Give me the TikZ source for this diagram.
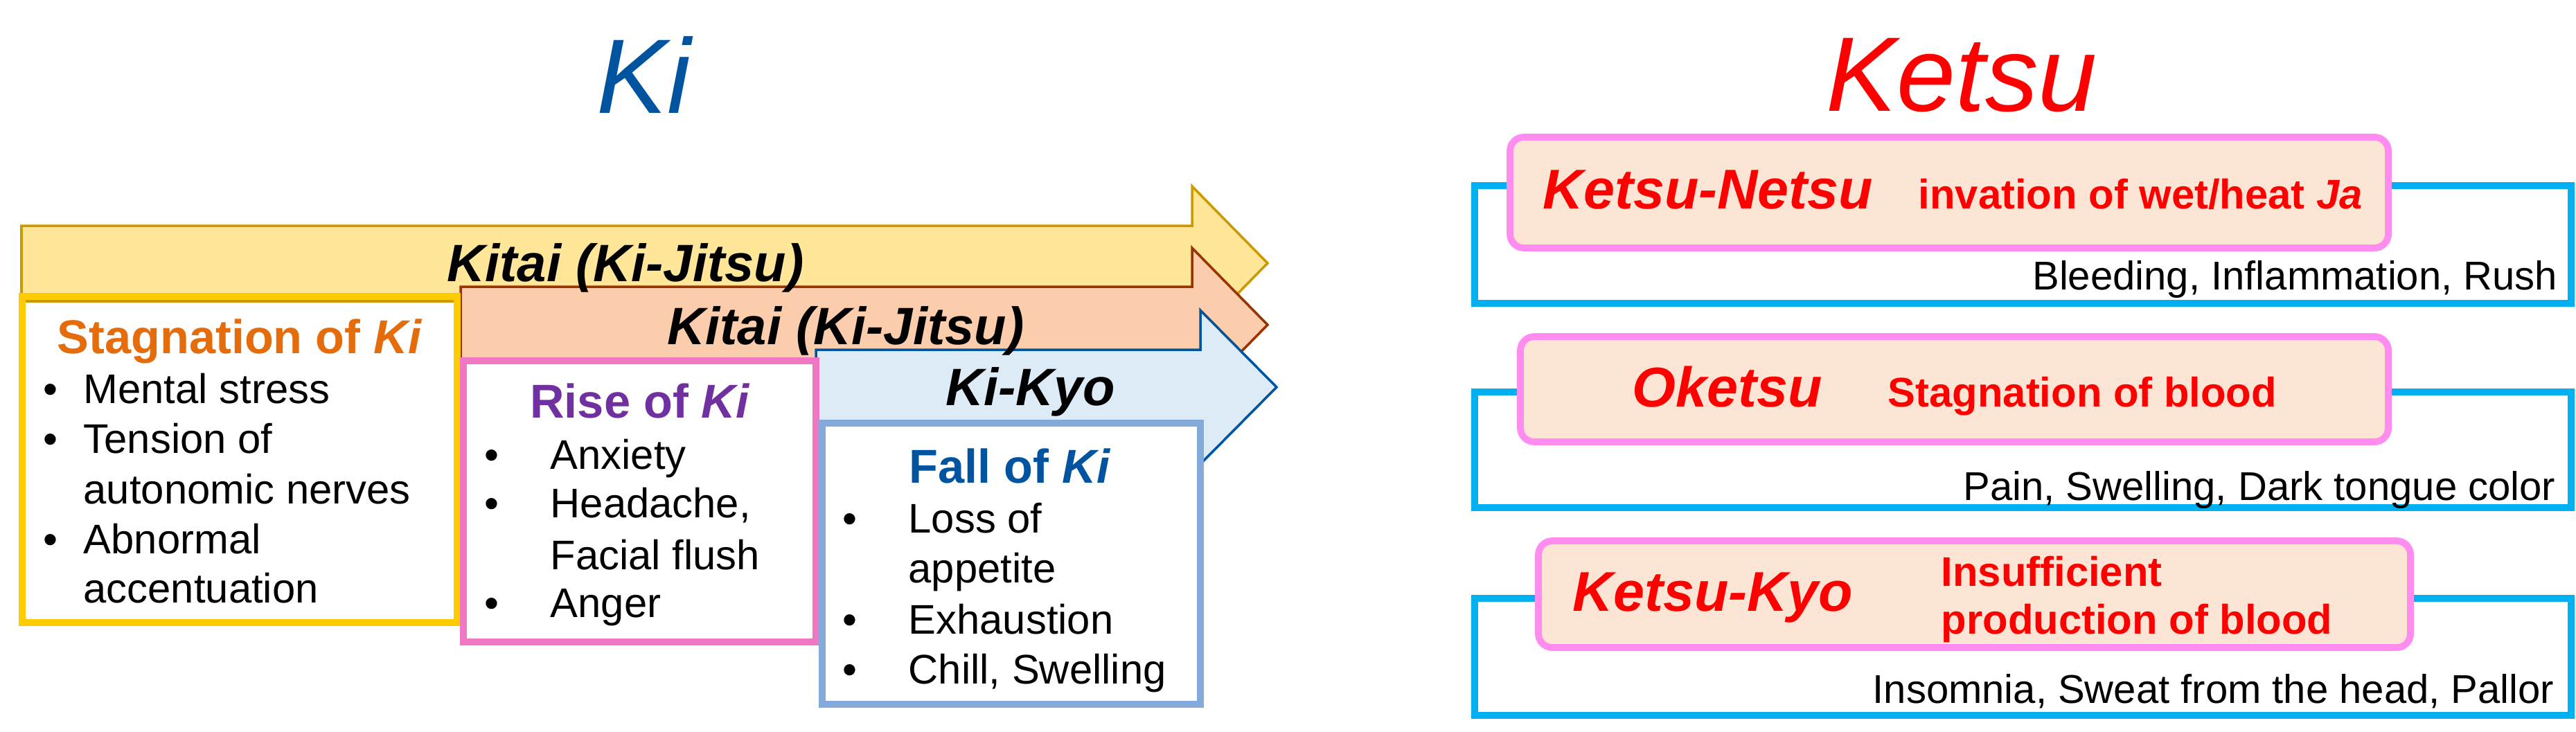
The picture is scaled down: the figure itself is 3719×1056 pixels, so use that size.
\documentclass[tikz,border=0pt]{standalone}
\usepackage{fontspec}
\setmainfont{Liberation Sans}
\usetikzlibrary{positioning}

\definecolor{kiblue}{RGB}{0,84,159}
\definecolor{yelfill}{RGB}{255,230,153}
\definecolor{yeldraw}{RGB}{204,153,0}
\definecolor{orgfill}{RGB}{252,205,172}
\definecolor{orgdraw}{RGB}{153,51,0}
\definecolor{bluefill}{RGB}{221,235,247}
\definecolor{stagline}{RGB}{255,204,0}
\definecolor{stagtext}{RGB}{228,108,10}
\definecolor{riseline}{RGB}{240,120,195}
\definecolor{risetext}{RGB}{112,48,160}
\definecolor{fallline}{RGB}{132,170,220}
\definecolor{cyanline}{RGB}{0,176,240}
\definecolor{pinkline}{RGB}{255,140,238}
\definecolor{pinkfill}{RGB}{253,229,214}

\tikzset{
  title/.style={font=\fontsize{43.5}{50}\selectfont\itshape, inner sep=0pt, anchor=base},
  arrowlabel/.style={font=\fontsize{21.6}{26}\selectfont\bfseries\itshape, inner sep=0pt, anchor=base},
  boxtitle/.style={font=\fontsize{19.5}{24}\selectfont\bfseries, inner sep=0pt, anchor=base},
  item/.style={font=\fontsize{17}{20}\selectfont, inner sep=0pt, anchor=base west},
  framebox/.style={line width=2.8pt, fill=white},
  symptom/.style={font=\fontsize{16.5}{20}\selectfont, inner sep=0pt, anchor=base east},
  ketsuname/.style={font=\fontsize{23}{28}\selectfont\bfseries\itshape, text=red, inner sep=0pt, anchor=base west},
  ketsudesc/.style={font=\fontsize{17}{20}\selectfont\bfseries, text=red, inner sep=0pt, anchor=base west},
  pinkbox/.style={draw=pinkline, fill=pinkfill, line width=2.8pt, rounded corners=2mm},
  bracket/.style={draw=cyanline, line width=2.8pt}
}

\begin{document}
\begin{tikzpicture}[x=0.01cm,y=-0.01cm]
  \useasboundingbox (0,0) rectangle (3719,1056);

  % titles
  \node[title, text=kiblue] (ki) at (929,163) {Ki};
  \node[title, text=red] (ketsu) at (2832,160) {Ketsu};

  % Ki arrows
  \draw[fill=yelfill, draw=yeldraw, line width=1pt]
    (31,326) -- (1721,326) -- (1721,269) -- (1830,380) -- (1721,491) -- (1721,434) -- (31,434) -- cycle;
  \draw[fill=orgfill, draw=orgdraw, line width=1pt]
    (665,414) -- (1721,414) -- (1721,358) -- (1830,469) -- (1721,580) -- (1721,524) -- (665,524) -- cycle;
  \draw[fill=bluefill, draw=kiblue, line width=1pt]
    (1178,505) -- (1733,505) -- (1733,448) -- (1843,559) -- (1733,670) -- (1733,613) -- (1178,613) -- cycle;

  \node[arrowlabel] (kitai1) at (903,406) {Kitai (Ki-Jitsu)};
  \node[arrowlabel] (kitai2) at (1221,497) {Kitai (Ki-Jitsu)};
  \node[arrowlabel] (kikyo) at (1488,585) {Ki-Kyo};

  % Ki boxes
  \draw[framebox, draw=stagline] (32,428) rectangle (660,899);
  \draw[yeldraw, line width=1pt] (37,435) -- (655,435);
  \draw[framebox, draw=riseline] (669,521) rectangle (1178,927);
  \draw[framebox, draw=fallline] (1187,611) rectangle (1733,1017);

  \node[boxtitle, text=stagtext] (stag) at (346,510) {Stagnation of \textit{Ki}};
  \node[item] (stagb1) at (62,582) {•};
  \node[item] (stag1) at (120,582) {Mental stress};
  \node[item] (stagb2) at (62,654) {•};
  \node[item] (stag2) at (120,654) {Tension of};
  \node[item] (stag3) at (120,727) {autonomic nerves};
  \node[item] (stagb4) at (62,799) {•};
  \node[item] (stag4) at (120,799) {Abnormal};
  \node[item] (stag5) at (120,870) {accentuation};

  \node[boxtitle, text=risetext] (rise) at (924,603) {Rise of \textit{Ki}};
  \node[item] (riseb1) at (699,677) {•};
  \node[item] (rise1) at (794,677) {Anxiety};
  \node[item] (riseb2) at (699,747) {•};
  \node[item] (rise2) at (794,747) {Headache,};
  \node[item] (rise3) at (794,822) {Facial flush};
  \node[item] (riseb4) at (699,891) {•};
  \node[item] (rise4) at (794,891) {Anger};

  \node[boxtitle, text=kiblue] (fall) at (1458,697) {Fall of \textit{Ki}};
  \node[item] (fallb1) at (1216,769) {•};
  \node[item] (fall1) at (1311,769) {Loss of};
  \node[item] (fall2) at (1311,841) {appetite};
  \node[item] (fallb3) at (1216,915) {•};
  \node[item] (fall3) at (1311,915) {Exhaustion};
  \node[item] (fallb4) at (1216,987) {•};
  \node[item] (fall4) at (1311,987) {Chill, Swelling};

  % Ketsu
  \draw[bracket] (2129,268) rectangle (3712,438);
  \draw[pinkbox] (2180,198) rectangle (3448,358);
  \node[ketsuname] (netsu) at (2227,301) {Ketsu-Netsu};
  \node[ketsudesc] (netsud) at (2769,301) {invation of wet/heat \textit{Ja}};
  \node[symptom] (netsus) at (3693,418) {Bleeding, Inflammation, Rush};

  \draw[bracket] (2129,566) rectangle (3712,733);
  \draw[pinkbox] (2195,486) rectangle (3448,638);
  \node[ketsuname] (oketsu) at (2356,587) {Oketsu};
  \node[ketsudesc] (oketsud) at (2725,587) {Stagnation of blood};
  \node[symptom] (oketsus) at (3690,722) {Pain, Swelling, Dark tongue color};

  \draw[bracket] (2129,864) rectangle (3712,1033);
  \draw[pinkbox] (2221,781) rectangle (3480,935);
  \node[ketsuname] (kyo) at (2270,882) {Ketsu-Kyo};
  \node[ketsudesc] (kyod1) at (2802,846) {Insufficient};
  \node[ketsudesc] (kyod2) at (2802,915) {production of blood};
  \node[symptom] (kyos) at (3688,1015) {Insomnia, Sweat from the head, Pallor};
\end{tikzpicture}
\end{document}
